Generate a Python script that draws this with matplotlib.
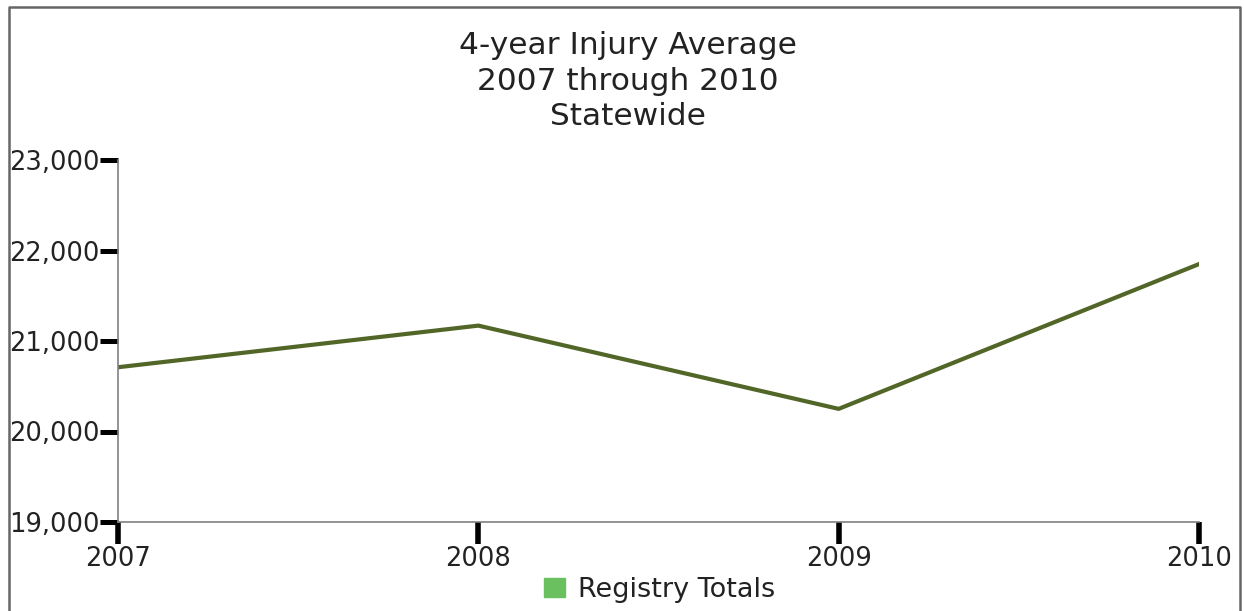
import matplotlib
matplotlib.use("Agg")
import matplotlib.pyplot as plt
from matplotlib.patches import Patch
from matplotlib.ticker import FuncFormatter

# data
years = [2007, 2008, 2009, 2010]
totals = [20710, 21170, 20250, 21850]
y_ticks = [19000, 20000, 21000, 22000, 23000]

line_color = "#526628"
legend_color = "#6abf5e"

plt.rcParams['font.family'] = ['DejaVu Sans']

fig = plt.figure(figsize=(12.44, 6.11), dpi=100)
ax = fig.add_axes([118/1244, 1 - 522/611, (1199-118)/1244, (522-160)/611])

ax.plot(years, totals, color=line_color, linewidth=3)

ax.set_xlim(2007, 2010)
ax.set_ylim(19000, 23000)
ax.set_xticks(years)
ax.set_yticks(y_ticks)
ax.yaxis.set_major_formatter(FuncFormatter(lambda v, p: f"{int(v):,}"))

for s in ["top", "right"]:
    ax.spines[s].set_visible(False)
for s in ["left", "bottom"]:
    ax.spines[s].set_color("#808080")
    ax.spines[s].set_linewidth(1.2)

ax.tick_params(axis="y", direction="out", length=13, width=3.6, color="black",
               labelsize=18.5, pad=0, labelcolor="#222222")
ax.tick_params(axis="x", direction="out", length=16, width=4, color="black",
               labelsize=18.5, pad=1, labelcolor="#222222")

# title
fig.text(628/1244, 1 - 81/611, "4-year Injury Average\n2007 through 2010\nStatewide",
         ha="center", va="center", fontsize=22.5, color="#222222", linespacing=1.3)

# legend
fig.legend(handles=[Patch(facecolor=legend_color, edgecolor=legend_color, label="Registry Totals")],
           loc="center", bbox_to_anchor=(660/1244, 1 - 590/611), frameon=False,
           fontsize=19.5, handlelength=0.75, handleheight=0.75, handletextpad=0.5,
           labelcolor="#222222")

# outer frame (open at the bottom)
fig.add_artist(plt.Line2D([9/1244, 9/1244, 1240/1244, 1240/1244],
                          [0, 1 - 7/611, 1 - 7/611, 0],
                          transform=fig.transFigure, color="#666666", linewidth=1.8))

fig.savefig("out.png", dpi=100)
